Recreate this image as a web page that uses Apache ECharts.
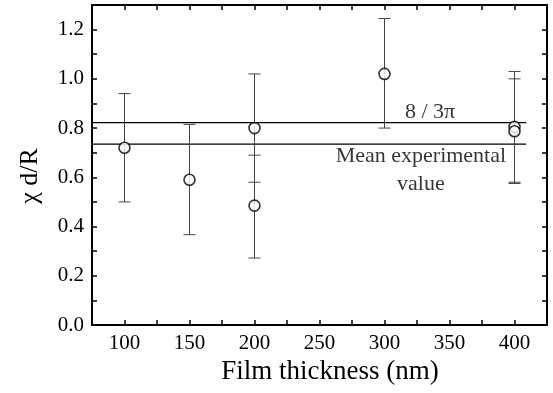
<!DOCTYPE html>
<html>
<head>
<meta charset="utf-8">
<script src="https://cdn.jsdelivr.net/npm/echarts@6/dist/echarts.min.js"></script>
<style>
  html, body { margin: 0; padding: 0; background: #fff; }
  #chart { width: 553px; height: 393px; }
</style>
</head>
<body>
<div id="chart"></div>
<script>
// measured points (film thickness in nm, chi d/R)
const thickness = [100, 150, 200, 200, 300, 400, 400]
const chiValues = [0.72, 0.59, 0.80, 0.485, 1.02, 0.805, 0.787]
const errLow = [0.50, 0.367, 0.58, 0.272, 0.80, 0.575, 0.58]
const errHigh = [0.94, 0.815, 1.02, 0.69, 1.245, 1.03, 1.0]

// reference levels
const theoryLevel = 0.822 // 8 / 3pi as drawn
const meanLevel = 0.735
const levelRange = [75, 409]

// annotation texts and anchors
const notes = [
  { text: '8 / 3π', x: 335, y: 0.866 },
  { text: 'Mean experimental', x: 328, y: 0.686 },
  { text: 'value', x: 328, y: 0.571 }
]

const serif = "'Liberation Serif', 'Times New Roman', serif"
const chart = echarts.init(document.getElementById('chart'))

const axisCommon = {
  axisLine: { show: true, onZero: false, lineStyle: { color: '#000', width: 2 } },
  axisTick: { show: true, inside: true, length: 5, lineStyle: { color: '#000', width: 1.5 } },
  splitLine: { show: false }
}

const options = {
  animation: false,
  grid: { left: 92, right: 6, top: 5, bottom: 68 },
  xAxis: [
    Object.assign({
      type: 'value',
      min: 75,
      max: 425,
      interval: 25,
      name: 'Film thickness (nm)',
      nameLocation: 'middle',
      nameGap: 32,
      nameTextStyle: { fontFamily: serif, fontSize: 27, color: '#000', padding: [0, 0, 0, 21] },
      axisLabel: {
        fontFamily: serif,
        fontSize: 21,
        color: '#000',
        margin: 8,
        formatter: v => (v % 50 === 0 && v >= 100 && v <= 400) ? String(v) : ''
      }
    }, axisCommon),
    Object.assign({
      type: 'value',
      position: 'top',
      min: 75,
      max: 425,
      interval: 25,
      axisLabel: { show: false }
    }, axisCommon)
  ],
  yAxis: [
    Object.assign({
      type: 'value',
      min: 0,
      max: 1.3,
      interval: 0.1,
      name: 'χ d/R',
      nameLocation: 'middle',
      nameGap: 49,
      nameRotate: 90,
      nameTextStyle: { fontFamily: serif, fontSize: 26, color: '#000', padding: [0, 22, 0, 0] },
      axisLabel: {
        fontFamily: serif,
        fontSize: 21,
        color: '#000',
        margin: 8,
        formatter: v => (Math.round(v * 10) % 2 === 0) ? v.toFixed(1) : ''
      }
    }, axisCommon),
    Object.assign({
      type: 'value',
      position: 'right',
      min: 0,
      max: 1.3,
      interval: 0.1,
      axisLabel: { show: false }
    }, axisCommon)
  ],
  series: [
    {
      type: 'line',
      data: [[levelRange[0], theoryLevel], [levelRange[1], theoryLevel]],
      symbol: 'none',
      lineStyle: { color: '#000', width: 1.2 },
      z: 3
    },
    {
      type: 'line',
      data: [[levelRange[0], meanLevel], [levelRange[1], meanLevel]],
      symbol: 'none',
      lineStyle: { color: '#000', width: 1.2 },
      z: 3
    },
    {
      type: 'custom',
      data: thickness.map((t, i) => [t, errLow[i], errHigh[i]]),
      renderItem: (params, api) => {
        const lo = api.coord([api.value(0), api.value(1)])
        const hi = api.coord([api.value(0), api.value(2)])
        const hw = 6
        const style = { stroke: '#444', lineWidth: 1 }
        return {
          type: 'group',
          children: [
            { type: 'line', shape: { x1: lo[0], y1: lo[1], x2: hi[0], y2: hi[1] }, style },
            { type: 'line', shape: { x1: lo[0] - hw, y1: lo[1], x2: lo[0] + hw, y2: lo[1] }, style },
            { type: 'line', shape: { x1: hi[0] - hw, y1: hi[1], x2: hi[0] + hw, y2: hi[1] }, style }
          ]
        }
      },
      z: 4
    },
    {
      type: 'scatter',
      data: thickness.map((t, i) => [t, chiValues[i]]),
      symbol: 'circle',
      symbolSize: 11,
      itemStyle: { color: '#fff', borderColor: '#000', borderWidth: 1.6 },
      z: 5
    },
    {
      type: 'scatter',
      data: notes.map(n => ({ value: [n.x, n.y], name: n.text })),
      symbolSize: 0,
      silent: true,
      label: {
        show: true,
        position: 'inside',
        formatter: p => p.name,
        fontFamily: serif,
        fontSize: 22,
        color: '#000'
      },
      z: 6
    }
  ]
}

chart.setOption(options)
</script>
</body>
</html>
